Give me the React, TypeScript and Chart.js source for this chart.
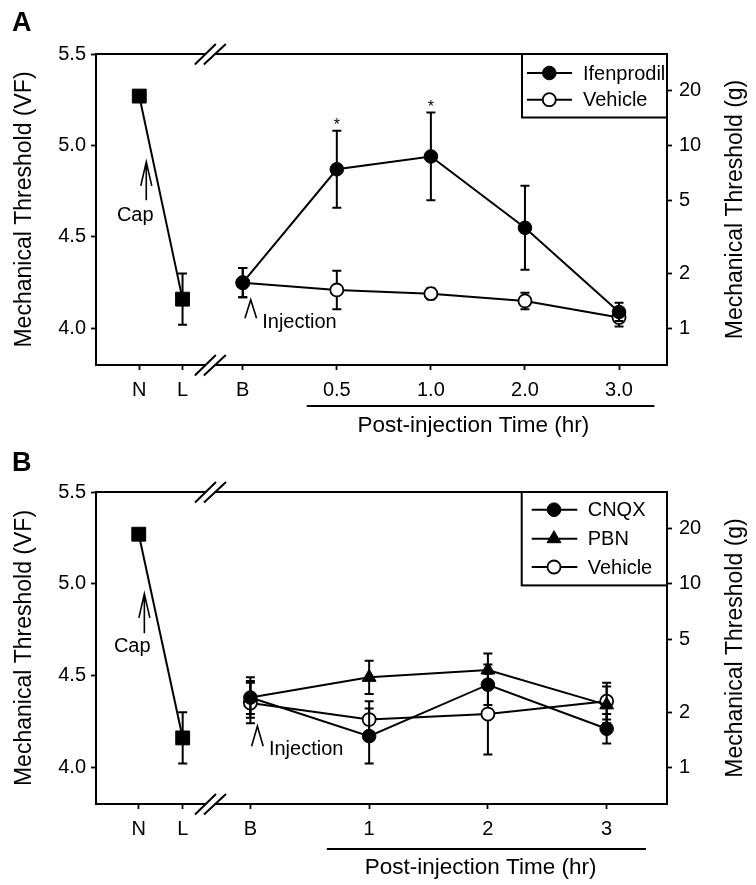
import React, { useEffect, useRef } from 'react';
import { Chart, registerables } from 'chart.js';

Chart.register(...registerables);

const FONT = '"Liberation Sans", Arial, Helvetica, sans-serif';
Chart.defaults.font.family = FONT;
Chart.defaults.color = '#000';

// ---------------- Panel A data ----------------
const catA = ['N', 'L', 'B', '0.5', '1.0', '2.0', '3.0'];
const xPosA = [-1.1, -0.64, 0, 1, 2, 3, 4];
const capA = [5.27, 4.16];
const capErrA = [0, 0.14];
const ifenprodilA = [4.25, 4.87, 4.94, 4.55, 4.09];
const ifenprodilErrA = [0.08, 0.21, 0.24, 0.23, 0.05];
const vehicleA = [4.25, 4.21, 4.19, 4.15, 4.06];
const vehicleErrA = [0.08, 0.105, 0.03, 0.045, 0.05];
const starsA = [1, 2];

// ---------------- Panel B data ----------------
const catB = ['N', 'L', 'B', '1', '2', '3'];
const xPosB = [-0.94, -0.57, 0, 1, 2, 3];
const capB = [5.27, 4.16];
const capErrB = [0, 0.14];
const cnqxB = [4.38, 4.17, 4.45, 4.21];
const cnqxErrB = [0.09, 0.15, 0.11, 0.08];
const pbnB = [4.38, 4.49, 4.53, 4.34];
const pbnErrB = [0.11, 0.09, 0.09, 0.1];
const vehicleB = [4.35, 4.26, 4.29, 4.36];
const vehicleErrB = [0.11, 0.1, 0.22, 0.1];

// ---------------- Axes ----------------
const vfTicks = [4.0, 4.5, 5.0, 5.5];
const gramTicks = [1, 2, 5, 10, 20];
const VF_MIN = 3.8;
const VF_MAX = 5.5;

type Mk = 'circle' | 'triangle' | 'rect';
interface Series {
  label: string;
  xs: number[];
  ys: number[];
  errs: number[];
  marker: Mk;
  radius: number;
  fill: string;
  bw: number;
}

const filled = { marker: 'circle' as Mk, radius: 6.8, fill: '#000', bw: 1 };
const open = { marker: 'circle' as Mk, radius: 6.5, fill: '#fff', bw: 1.8 };
const tri = { marker: 'triangle' as Mk, radius: 8, fill: '#000', bw: 1 };
const square = { marker: 'rect' as Mk, radius: 9.8, fill: '#000', bw: 1 };

const seriesA: Series[] = [
  { label: 'Ifenprodil', xs: xPosA.slice(2), ys: ifenprodilA, errs: ifenprodilErrA, ...filled },
  { label: 'Vehicle', xs: xPosA.slice(2), ys: vehicleA, errs: vehicleErrA, ...open },
  { label: 'Cap', xs: xPosA.slice(0, 2), ys: capA, errs: capErrA, ...square },
];
const seriesB: Series[] = [
  { label: 'CNQX', xs: xPosB.slice(2), ys: cnqxB, errs: cnqxErrB, ...filled },
  { label: 'PBN', xs: xPosB.slice(2), ys: pbnB, errs: pbnErrB, ...tri },
  { label: 'Vehicle', xs: xPosB.slice(2), ys: vehicleB, errs: vehicleErrB, ...open },
  { label: 'Cap', xs: xPosB.slice(0, 2), ys: capB, errs: capErrB, ...square },
];

interface PanelCfg {
  letter: string;
  height: number;
  padTop: number;
  xAxisH: number;
  cats: string[];
  xPos: number[];
  xMin: number;
  xMax: number;
  series: Series[];
  legendN: number;
  legend: { width: number; height: number; rows: number[]; lx0: number; lx1: number; mx: number; tx: number };
  breakX: number;
  cap: { dx: number; tipVF: number; tailVF: number; textDx: number; textVF: number };
  inj: { dx: number; tipVF: number; legDx: number; legDy: number };
  under: { x0: number; x1: number; dy: number; textX: number; textDy: number };
  stars: number[];
}

const panelA: PanelCfg = {
  letter: 'A',
  height: 440,
  padTop: 54,
  xAxisH: 75,
  cats: catA,
  xPos: xPosA,
  xMin: -1.56,
  xMax: 4.51,
  series: seriesA,
  legendN: 2,
  legend: { width: 145, height: 63.5, rows: [19, 45.7], lx0: 5, lx1: 50, mx: 27.3, tx: 61 },
  breakX: -0.35,
  cap: { dx: 7, tipVF: 4.91, tailVF: 4.7, textDx: -4, textVF: 4.62 },
  inj: { dx: 8, tipVF: 4.157, legDx: 5.8, legDy: 18.5 },
  under: { x0: 0.68, x1: 4.376, dy: 41, textX: 2.452, textDy: 61 },
  stars: starsA,
};

const panelB: PanelCfg = {
  letter: 'B',
  height: 445,
  padTop: 52,
  xAxisH: 81,
  cats: catB,
  xPos: xPosB,
  xMin: -1.3,
  xMax: 3.508,
  series: seriesB,
  legendN: 3,
  legend: { width: 145.3, height: 93.4, rows: [17.7, 46.7, 75], lx0: 10, lx1: 55.6, mx: 32.3, tx: 66 },
  breakX: -0.34,
  cap: { dx: 5.6, tipVF: 4.945, tailVF: 4.73, textDx: -6.5, textVF: 4.657 },
  inj: { dx: 7, tipVF: 4.224, legDx: 5.8, legDy: 20 },
  under: { x0: 0.644, x1: 3.331, dy: 45, textX: 1.939, textDy: 64 },
  stars: [],
};

function drawMarker(ctx: CanvasRenderingContext2D, s: Series, x: number, y: number) {
  const r = s.radius;
  ctx.beginPath();
  if (s.marker === 'circle') {
    ctx.arc(x, y, r, 0, Math.PI * 2);
  } else if (s.marker === 'triangle') {
    let rad = 0;
    ctx.moveTo(x + Math.sin(rad) * r, y - Math.cos(rad) * r);
    rad += (2 * Math.PI) / 3;
    ctx.lineTo(x + Math.sin(rad) * r, y - Math.cos(rad) * r);
    rad += (2 * Math.PI) / 3;
    ctx.lineTo(x + Math.sin(rad) * r, y - Math.cos(rad) * r);
    ctx.closePath();
  } else {
    const h = r * Math.SQRT1_2;
    ctx.rect(x - h, y - h, 2 * h, 2 * h);
  }
  ctx.fillStyle = s.fill;
  ctx.fill();
  ctx.lineWidth = s.bw;
  ctx.strokeStyle = '#000';
  ctx.stroke();
}

function decor(p: PanelCfg) {
  return {
    id: 'decor' + p.letter,
    beforeDatasetDraw(chart: any, args: any) {
      const ds = chart.data.datasets[args.index];
      const errs: number[] = ds.errs;
      if (!errs) return;
      const ctx: CanvasRenderingContext2D = chart.ctx;
      const ys = chart.scales.y;
      ctx.save();
      ctx.strokeStyle = '#000';
      ctx.lineWidth = 2;
      args.meta.data.forEach((el: any, i: number) => {
        const e = errs[i];
        if (!e) return;
        const v = ds.data[i].y;
        const x = el.x;
        const y1 = ys.getPixelForValue(v + e);
        const y2 = ys.getPixelForValue(v - e);
        ctx.beginPath();
        ctx.moveTo(x, y1);
        ctx.lineTo(x, y2);
        ctx.moveTo(x - 4.5, y1);
        ctx.lineTo(x + 4.5, y1);
        ctx.moveTo(x - 4.5, y2);
        ctx.lineTo(x + 4.5, y2);
        ctx.stroke();
      });
      ctx.restore();
    },
    afterDraw(chart: any) {
      const ctx: CanvasRenderingContext2D = chart.ctx;
      const ca = chart.chartArea;
      const xs = chart.scales.x;
      const ys = chart.scales.y;
      ctx.save();
      ctx.strokeStyle = '#000';
      ctx.fillStyle = '#000';

      // top frame line
      ctx.lineWidth = 2;
      ctx.beginPath();
      ctx.moveTo(ca.left - 1, ca.top);
      ctx.lineTo(ca.right + 1, ca.top);
      ctx.stroke();

      // axis breaks
      const bx = xs.getPixelForValue(p.breakX);
      for (const by of [ca.top, ca.bottom]) {
        ctx.fillStyle = '#fff';
        ctx.fillRect(bx - 4, by - 2, 9.5, 4);
        ctx.beginPath();
        ctx.moveTo(bx - 15, by + 10.5);
        ctx.lineTo(bx + 6, by - 10);
        ctx.moveTo(bx - 6, by + 10.5);
        ctx.lineTo(bx + 16, by - 10);
        ctx.lineWidth = 2;
        ctx.strokeStyle = '#000';
        ctx.stroke();
      }
      ctx.fillStyle = '#000';

      // panel letter
      ctx.font = `bold 27px ${FONT}`;
      ctx.textAlign = 'left';
      ctx.textBaseline = 'alphabetic';
      ctx.fillText(p.letter, 12, 31);

      // right axis title
      ctx.save();
      ctx.translate(736, (ca.top + ca.bottom) / 2);
      ctx.rotate(-Math.PI / 2);
      ctx.font = `23px ${FONT}`;
      ctx.textAlign = 'center';
      ctx.textBaseline = 'middle';
      ctx.fillText('Mechanical Threshold (g)', 0, 0);
      ctx.restore();

      // post-injection underline and title
      ctx.lineWidth = 2;
      ctx.beginPath();
      ctx.moveTo(xs.getPixelForValue(p.under.x0), ca.bottom + p.under.dy);
      ctx.lineTo(xs.getPixelForValue(p.under.x1), ca.bottom + p.under.dy);
      ctx.stroke();
      ctx.font = `22.5px ${FONT}`;
      ctx.textAlign = 'center';
      ctx.textBaseline = 'middle';
      ctx.fillText('Post-injection Time (hr)', xs.getPixelForValue(p.under.textX), ca.bottom + p.under.textDy);

      // legend
      const L = p.legend;
      const lx = ca.right - L.width;
      const ly = ca.top;
      ctx.fillStyle = '#fff';
      ctx.fillRect(lx, ly, L.width, L.height);
      ctx.lineWidth = 2;
      ctx.strokeStyle = '#000';
      ctx.strokeRect(lx, ly, L.width, L.height);
      for (let i = 0; i < p.legendN; i++) {
        const s = p.series[i];
        const ry = ly + L.rows[i];
        ctx.lineWidth = 2;
        ctx.beginPath();
        ctx.moveTo(lx + L.lx0, ry);
        ctx.lineTo(lx + L.lx1, ry);
        ctx.stroke();
        drawMarker(ctx, s, lx + L.mx, ry);
        ctx.fillStyle = '#000';
        ctx.font = `20px ${FONT}`;
        ctx.textAlign = 'left';
        ctx.textBaseline = 'middle';
        ctx.fillText(s.label, lx + L.tx, ry + 1);
      }

      // Cap arrow
      const nx = xs.getPixelForValue(p.xPos[0]);
      const ax = nx + p.cap.dx;
      const tipY = ys.getPixelForValue(p.cap.tipVF);
      const tailY = ys.getPixelForValue(p.cap.tailVF);
      ctx.lineWidth = 1.6;
      ctx.beginPath();
      ctx.moveTo(ax, tailY);
      ctx.lineTo(ax, tipY);
      ctx.moveTo(ax - 5.5, tipY + 24);
      ctx.lineTo(ax, tipY);
      ctx.lineTo(ax + 5.5, tipY + 24);
      ctx.stroke();
      ctx.font = `20px ${FONT}`;
      ctx.textAlign = 'center';
      ctx.textBaseline = 'middle';
      ctx.fillText('Cap', nx + p.cap.textDx, ys.getPixelForValue(p.cap.textVF));

      // Injection caret
      const bxp = xs.getPixelForValue(p.xPos[2]);
      const ix = bxp + p.inj.dx;
      const iy = ys.getPixelForValue(p.inj.tipVF);
      ctx.beginPath();
      ctx.moveTo(ix - p.inj.legDx, iy + p.inj.legDy);
      ctx.lineTo(ix, iy);
      ctx.lineTo(ix + p.inj.legDx, iy + p.inj.legDy);
      ctx.stroke();
      ctx.textAlign = 'left';
      ctx.fillText('Injection', ix + 11.5, iy + 23);

      // significance stars
      const s0 = p.series[0];
      ctx.font = `16px ${FONT}`;
      ctx.textAlign = 'center';
      ctx.textBaseline = 'alphabetic';
      for (const i of p.stars) {
        const x = xs.getPixelForValue(s0.xs[i]);
        const top = ys.getPixelForValue(s0.ys[i] + s0.errs[i]);
        ctx.fillText('*', x, top - 1);
      }
      ctx.restore();
    },
  };
}

function Panel({ cfg }: { cfg: PanelCfg }) {
  const ref = useRef<HTMLCanvasElement>(null);
  useEffect(() => {
    const datasets = cfg.series.map((s) => ({
      label: s.label,
      data: s.ys.map((y, i) => ({ x: s.xs[i], y })),
      errs: s.errs,
      borderColor: '#000',
      borderWidth: 2,
      tension: 0,
      fill: false,
      pointStyle: s.marker,
      pointRadius: s.radius,
      pointHoverRadius: s.radius,
      pointBackgroundColor: s.fill,
      pointBorderColor: '#000',
      pointBorderWidth: s.bw,
      clip: false,
    }));
    const tickFont = { size: 20, family: FONT };
    const chart = new Chart(ref.current as HTMLCanvasElement, {
      type: 'line',
      data: { datasets: datasets as any },
      options: {
        animation: false,
        responsive: false,
        devicePixelRatio: 1,
        events: [],
        layout: { padding: { top: cfg.padTop, left: 0, right: 0, bottom: 0 } },
        plugins: { legend: { display: false }, tooltip: { enabled: false } },
        scales: {
          x: {
            type: 'linear',
            position: 'bottom',
            min: cfg.xMin,
            max: cfg.xMax,
            bounds: 'data',
            afterBuildTicks: (scale: any) => {
              scale.ticks = cfg.xPos.map((v) => ({ value: v }));
            },
            afterFit: (scale: any) => {
              scale.height = cfg.xAxisH;
            },
            ticks: {
              autoSkip: false,
              maxRotation: 0,
              padding: 8,
              font: tickFont,
              color: '#000',
              callback: (_v: any, i: number) => cfg.cats[i],
            },
            grid: { drawOnChartArea: false, tickLength: 5, tickColor: '#000', tickWidth: 1.8 },
            border: { display: true, color: '#000', width: 2 },
          },
          y: {
            type: 'linear',
            position: 'left',
            min: VF_MIN,
            max: VF_MAX,
            bounds: 'data',
            afterBuildTicks: (scale: any) => {
              scale.ticks = vfTicks.map((v) => ({ value: v }));
            },
            afterFit: (scale: any) => {
              scale.width = 96;
            },
            ticks: {
              padding: 5,
              font: tickFont,
              color: '#000',
              callback: (v: any) => Number(v).toFixed(1),
            },
            title: {
              display: true,
              text: 'Mechanical Threshold (VF)',
              font: { size: 23, family: FONT },
              color: '#000',
              padding: { top: 11, bottom: 0 },
            },
            grid: { drawOnChartArea: false, tickLength: 5, tickColor: '#000', tickWidth: 1.8 },
            border: { display: true, color: '#000', width: 2 },
          },
          y1: {
            type: 'logarithmic',
            position: 'right',
            min: Math.pow(10, VF_MIN - 4),
            max: Math.pow(10, VF_MAX - 4),
            bounds: 'data',
            afterBuildTicks: (scale: any) => {
              scale.ticks = gramTicks.map((v) => ({ value: v }));
            },
            afterFit: (scale: any) => {
              scale.width = 89;
            },
            ticks: {
              padding: 7,
              font: tickFont,
              color: '#000',
              callback: (v: any) => String(v),
            },
            grid: { drawOnChartArea: false, tickLength: 5, tickColor: '#000', tickWidth: 1.8 },
            border: { display: true, color: '#000', width: 2 },
          },
        },
      } as any,
      plugins: [decor(cfg) as any],
    });
    return () => chart.destroy();
  }, [cfg]);
  return <canvas ref={ref} width={756} height={cfg.height} style={{ display: 'block', width: 756, height: cfg.height }} />;
}

export default function App() {
  return (
    <div style={{ position: 'absolute', left: 0, top: 0, width: 756, height: 885, background: '#fff' }}>
      <Panel cfg={panelA} />
      <Panel cfg={panelB} />
    </div>
  );
}
